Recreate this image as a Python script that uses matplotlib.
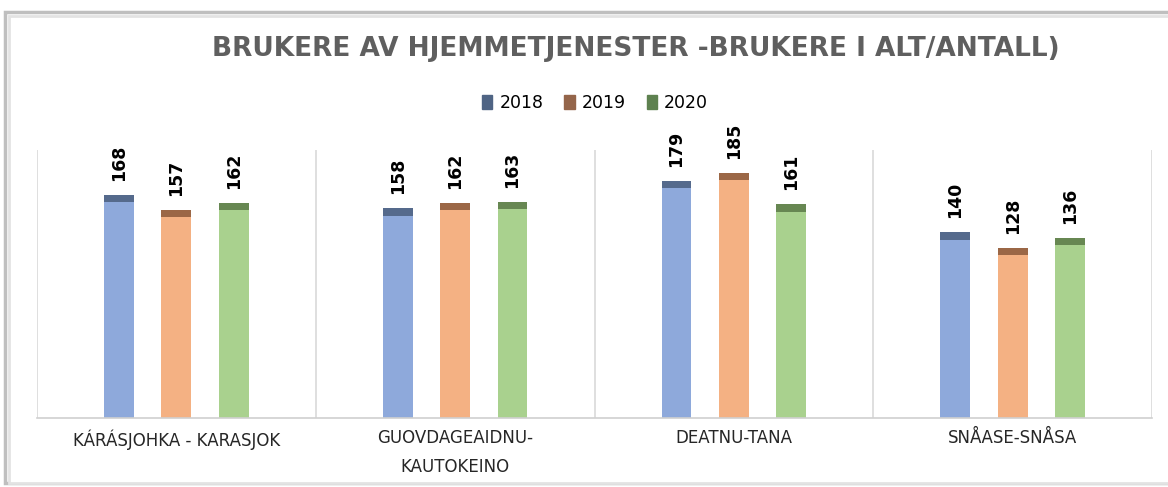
import matplotlib
matplotlib.use("Agg")
import matplotlib.pyplot as plt
import numpy as np
from matplotlib.patches import Rectangle

categories = ["KÁRÁSJOHKA - KARASJOK", "GUOVDAGEAIDNU-\nKAUTOKEINO", "DEATNU-TANA", "SNÅASE-SNÅSA"]
years = ["2018", "2019", "2020"]
v2018 = [168, 158, 179, 140]
v2019 = [157, 162, 185, 128]
v2020 = [162, 163, 161, 136]
series = [v2018, v2019, v2020]

body_colors = ["#8EA9DB", "#F4B183", "#A9D18E"]
cap_colors = ["#4B5F7E", "#8C5A3C", "#5C7A48"]
legend_colors = ["#4F6484", "#94654A", "#5E8150"]

W, H = 1168, 487
fig = plt.figure(figsize=(W / 100, H / 100), dpi=100)
fig.patch.set_facecolor("white")

# outer chart frame with shadow
fig.patches.append(Rectangle((5 / W, 4 / H), 1.2, 1 - 16 / H, transform=fig.transFigure,
                             facecolor="white", edgecolor="#BFBFBF", linewidth=2.5, zorder=0))
fig.patches.append(Rectangle((9 / W, 4 / H), 1.2, 1 - 20 / H, transform=fig.transFigure,
                             facecolor="white", edgecolor="#E3E3E3", linewidth=2, zorder=0))

ax = fig.add_axes([37 / W, 1 - 418 / H, (1152 - 37) / W, (418 - 150) / H])
ax.set_zorder(5)
ax.set_facecolor("none")

n = len(categories)
x = np.arange(n)
bw = 0.107
offs = [-0.206, 0.0, 0.206]
ymax = 202
cap = 5.5

for i, vals in enumerate(series):
    xs = x + offs[i]
    ax.bar(xs, vals, width=bw, color=body_colors[i], edgecolor="none", zorder=2, label=years[i])
    ax.bar(xs, [cap] * n, bottom=[v - cap for v in vals], width=bw, color=cap_colors[i],
           edgecolor="none", zorder=3, alpha=0.85)
    for xx, v in zip(xs, vals):
        ax.text(xx, v + 10.5, str(v), rotation=90, ha="center", va="bottom",
                fontsize=12.5, fontweight="bold", color="black")

ax.set_xlim(-0.5, n - 0.5)
ax.set_ylim(0, ymax)
ax.set_yticks([])
ax.set_xticks(x)
ax.set_xticklabels(categories, fontsize=12, color="#262626", linespacing=1.75)
ax.tick_params(axis="x", length=0, pad=8)
for s in ["top", "left", "right"]:
    ax.spines[s].set_visible(False)
ax.spines["bottom"].set_color("#D0D0D0")
ax.spines["bottom"].set_linewidth(1.2)
for b in np.arange(n + 1) - 0.5:
    ax.axvline(b, color="#D9D9D9", linewidth=1.2, zorder=1)

fig.text(636 / W, 1 - 49 / H, "BRUKERE AV HJEMMETJENESTER -BRUKERE I ALT/ANTALL)",
         ha="center", va="center", fontsize=19, fontweight="bold", color="#5F5F5F", zorder=6)

handles = [Rectangle((0, 0), 1, 1, color=c) for c in legend_colors]
leg = fig.legend(handles, years, loc="center", bbox_to_anchor=(595 / W, 1 - 103 / H), ncol=3,
                 frameon=False, fontsize=12.5, handlelength=0.6, handleheight=0.9,
                 handletextpad=0.4, columnspacing=1.2)
leg.set_zorder(6)

fig.savefig("out.png", dpi=100, facecolor="white")
